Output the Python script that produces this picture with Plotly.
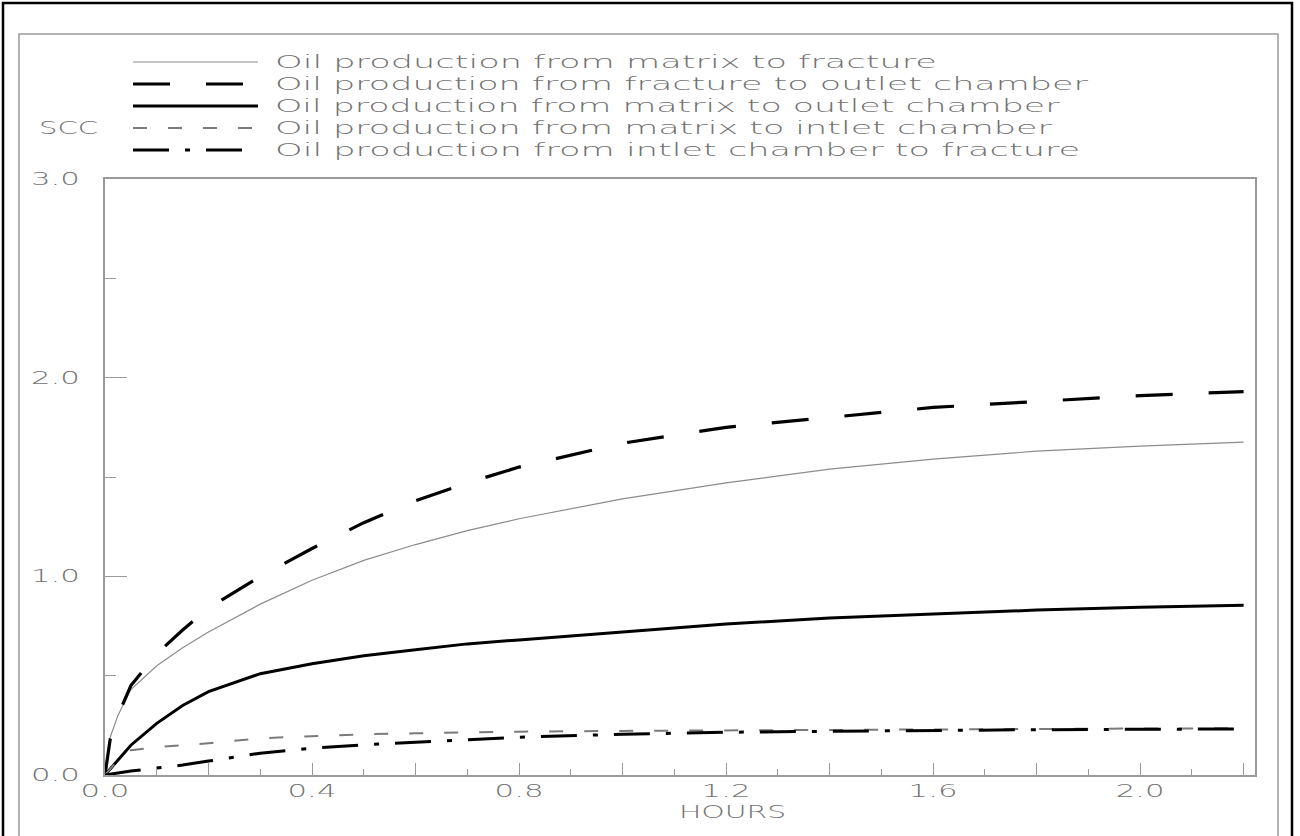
import plotly.graph_objects as go

# ---- data (cumulative oil production, scc, versus time in hours) ----
hours = [0.0, 0.01, 0.025, 0.05, 0.1, 0.15, 0.2, 0.3, 0.4, 0.5, 0.6,
         0.7, 0.8, 1.0, 1.2, 1.4, 1.6, 1.8, 2.0, 2.2]

matrix_to_fracture = [0.0, 0.19, 0.30, 0.43, 0.55, 0.64, 0.72, 0.86, 0.98, 1.08, 1.16,
                      1.23, 1.29, 1.39, 1.47, 1.54, 1.59, 1.63, 1.655, 1.676]
fracture_to_outlet = [0.0, 0.18, 0.30, 0.45, 0.61, 0.73, 0.84, 1.00, 1.14, 1.27, 1.38,
                      1.47, 1.55, 1.67, 1.75, 1.80, 1.85, 1.88, 1.91, 1.93]
matrix_to_outlet = [0.0, 0.03, 0.08, 0.15, 0.26, 0.35, 0.42, 0.51, 0.56, 0.60, 0.63,
                    0.66, 0.68, 0.72, 0.76, 0.79, 0.81, 0.83, 0.845, 0.855]
matrix_to_inlet = [0.0, 0.03, 0.075, 0.125, 0.14, 0.15, 0.16, 0.185, 0.195, 0.205, 0.21,
                   0.215, 0.218, 0.222, 0.225, 0.228, 0.23, 0.232, 0.234, 0.235]
inlet_to_fracture = [0.0, 0.003, 0.01, 0.02, 0.035, 0.05, 0.07, 0.11, 0.135, 0.152, 0.165,
                     0.178, 0.19, 0.205, 0.215, 0.22, 0.225, 0.228, 0.23, 0.232]

series_names = [
    "Oil production from matrix to fracture",
    "Oil production from fracture to outlet chamber",
    "Oil production from matrix to outlet chamber",
    "Oil production from matrix to intlet chamber",
    "Oil production from intlet chamber to fracture",
]

x_tick_vals = [0.0, 0.2, 0.4, 0.6, 0.8, 1.0, 1.2, 1.4, 1.6, 1.8, 2.0, 2.2]
x_tick_text = ["0.0", "", "0.4", "", "0.8", "", "1.2", "", "1.6", "", "2.0", ""]
y_tick_vals = [0.0, 1.0, 2.0, 3.0]
y_tick_text = ["0.0", "1.0", "2.0", "3.0"]

# ---- styling ----
W, H = 1300, 836
L, R, T, B = 105, 1255, 179, 775          # plot area in page pixels
AXIS_GREY = "#9a9a9a"
TEXT_GREY = "#727272"
FONT = "DejaVu Sans"

styles = [
    dict(color="#8c8c8c", width=1.2, dash="solid"),
    dict(color="#000000", width=3.2, dash="37px,36px"),
    dict(color="#000000", width=3.0, dash="solid"),
    dict(color="#7a7a7a", width=2.0, dash="14px,21px"),
    dict(color="#000000", width=3.0, dash="36px,16px,5px,16px"),
]
series = [matrix_to_fracture, fracture_to_outlet, matrix_to_outlet,
          matrix_to_inlet, inlet_to_fracture]


def px_x(p):
    return (p - L) / (R - L)


def px_y(p):
    return (B - p) / (B - T)


fig = go.Figure()
for name, ys, st in zip(series_names, series, styles):
    fig.add_trace(go.Scatter(x=hours, y=ys, mode="lines", name=name,
                             line=dict(color=st["color"], width=st["width"], dash=st["dash"]),
                             showlegend=False, hoverinfo="skip"))

shapes = [
    # outer black frame and inner grey frame
    dict(type="rect", xref="paper", yref="paper",
         x0=px_x(3), x1=px_x(1292), y0=px_y(900), y1=px_y(3),
         line=dict(color="#000000", width=2.5), layer="below"),
    dict(type="rect", xref="paper", yref="paper",
         x0=px_x(19), x1=px_x(1278), y0=px_y(900), y1=px_y(34),
         line=dict(color=AXIS_GREY, width=1.5), layer="below"),
]

# legend key: line samples with text to their right
row_y = [62, 84, 106, 128, 150]
annotations = []
for name, st, ry in zip(series_names, styles, row_y):
    shapes.append(dict(type="line", xref="paper", yref="paper",
                       x0=px_x(133), x1=px_x(258), y0=px_y(ry), y1=px_y(ry),
                       line=dict(color=st["color"], width=st["width"], dash=st["dash"])))
    annotations.append(dict(text=name, xref="paper", yref="paper",
                            x=px_x(273), y=px_y(ry), xanchor="left", yanchor="middle",
                            align="left", showarrow=False,
                            font=dict(size=17, color=TEXT_GREY)))

annotations.append(dict(text="SCC", xref="paper", yref="paper", x=px_x(37), y=px_y(128),
                        xanchor="left", yanchor="middle", align="left", showarrow=False,
                        font=dict(size=17, color=TEXT_GREY)))
annotations.append(dict(text="HOURS", xref="paper", yref="paper", x=px_x(732), y=px_y(812),
                        xanchor="center", yanchor="middle", showarrow=False,
                        font=dict(size=17, color=TEXT_GREY)))

axis_common = dict(showline=True, linecolor=AXIS_GREY, linewidth=1.5, mirror=True,
                   showgrid=False, zeroline=False, ticks="inside", tickcolor=AXIS_GREY,
                   tickwidth=1.3, tickfont=dict(size=17, color=TEXT_GREY, family=FONT))

fig.update_xaxes(range=[0, 2.222], tickmode="array", tickvals=x_tick_vals, ticktext=x_tick_text,
                 ticklen=12, ticklabelstandoff=0,
                 minor=dict(tickmode="linear", tick0=0, dtick=0.1, ticks="inside", ticklen=6,
                            tickcolor=AXIS_GREY, tickwidth=1.3),
                 **axis_common)
fig.update_yaxes(range=[0, 3.0], tickmode="array", tickvals=y_tick_vals, ticktext=y_tick_text,
                 ticklen=22, ticklabelstandoff=20,
                 minor=dict(tickmode="linear", tick0=0, dtick=0.5, ticks="inside", ticklen=11,
                            tickcolor=AXIS_GREY, tickwidth=1.3),
                 **axis_common)

fig.update_layout(
    width=W, height=H,
    margin=dict(l=L, r=W - R, t=T, b=H - B),
    paper_bgcolor="white", plot_bgcolor="white",
    font=dict(family=FONT, size=17, color=TEXT_GREY, weight=200),
    shapes=shapes, annotations=annotations,
)

# plotter-style lettering: broader glyphs with generous spacing.
# Each label is stretched with textLength.  The label's own x offset is moved
# into its transform (x = 0, anchored at the start) so the stretched run keeps
# the same left/centre/right edge that plotly laid out.
widen_js = """
var gd = document.getElementById('{plot_id}');
function widenLettering() {
  gd.querySelectorAll('text').forEach(function (t) {
    var s = t.textContent;
    if (!s || !s.trim()) return;
    if (t.getAttribute('data-wide') === s && t.getAttribute('x') === '0') return;
    var tr = t.getAttribute('transform') || '';
    var mine = t.getAttribute('data-shift');
    if (mine && tr.slice(-mine.length) === mine) tr = tr.slice(0, tr.length - mine.length);
    t.removeAttribute('textLength');
    t.removeAttribute('lengthAdjust');
    var anchor = t.getAttribute('text-anchor') || 'start';
    var x0 = parseFloat(t.getAttribute('x') || '0');
    var w = t.getComputedTextLength();
    var target = w * 1.35 + (s.length - 1) * 6.2;
    var left = x0;
    if (anchor === 'middle') left = x0 - target / 2;
    else if (anchor === 'end') left = x0 - target;
    var shift = ' translate(' + left.toFixed(2) + ',0)';
    t.setAttribute('text-anchor', 'start');
    t.setAttribute('x', '0');
    t.setAttribute('transform', tr + shift);
    t.setAttribute('data-shift', shift);
    t.setAttribute('textLength', target.toFixed(1));
    t.setAttribute('lengthAdjust', 'spacingAndGlyphs');
    t.setAttribute('data-wide', s);
  });
}
widenLettering();
gd.on('plotly_afterplot', widenLettering);
"""

fig.write_html("out.html", post_script=widen_js)
